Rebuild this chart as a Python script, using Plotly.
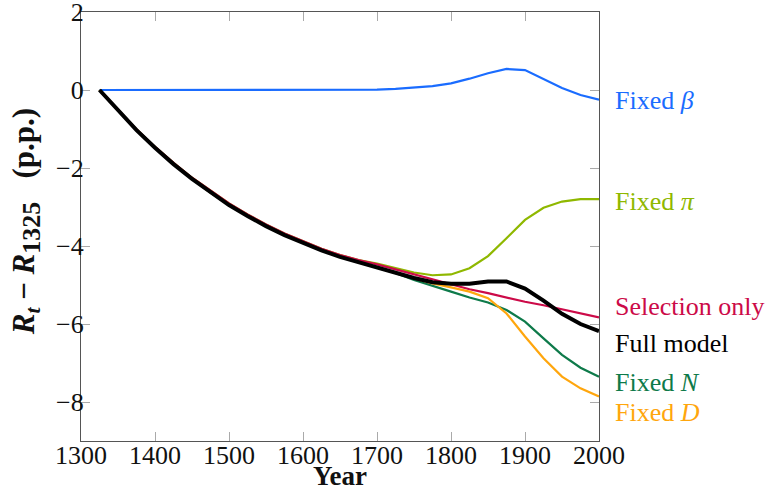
import plotly.graph_objects as go

years = list(range(1325, 2001, 25))

full_model = [0, -0.52, -1.03, -1.48, -1.90, -2.28, -2.63, -2.95, -3.23, -3.49, -3.72, -3.92,
              -4.11, -4.28, -4.42, -4.55, -4.68, -4.82, -4.93, -4.97, -4.97, -4.91, -4.91,
              -5.09, -5.40, -5.74, -6.00, -6.18]
selection_only = [0, -0.51, -1.01, -1.46, -1.87, -2.25, -2.59, -2.91, -3.19, -3.45, -3.68, -3.88,
                  -4.07, -4.23, -4.36, -4.47, -4.60, -4.73, -4.86, -4.99, -5.11, -5.21, -5.32,
                  -5.43, -5.52, -5.62, -5.73, -5.83]
fixed_pi = [0, -0.51, -1.01, -1.46, -1.87, -2.25, -2.59, -2.91, -3.19, -3.45, -3.68, -3.88,
            -4.07, -4.23, -4.36, -4.45, -4.57, -4.68, -4.75, -4.73, -4.57, -4.26, -3.80,
            -3.33, -3.02, -2.86, -2.80, -2.80]
fixed_n = [0, -0.52, -1.03, -1.48, -1.90, -2.28, -2.63, -2.95, -3.23, -3.49, -3.72, -3.92,
           -4.11, -4.28, -4.42, -4.55, -4.69, -4.87, -5.03, -5.17, -5.32, -5.45, -5.64,
           -5.94, -6.37, -6.79, -7.12, -7.35]
fixed_d = [0, -0.52, -1.03, -1.48, -1.90, -2.28, -2.63, -2.95, -3.23, -3.49, -3.72, -3.92,
           -4.11, -4.28, -4.42, -4.55, -4.68, -4.83, -4.96, -5.06, -5.17, -5.34, -5.73,
           -6.32, -6.88, -7.35, -7.65, -7.86]
fixed_beta = [0, 0, 0, 0, 0, 0, 0, 0, 0, 0, 0, 0,
              0, 0.0, 0.005, 0.01, 0.03, 0.06, 0.10, 0.17, 0.29, 0.43, 0.54,
              0.51, 0.27, 0.05, -0.13, -0.25]

x_ticks = [1300, 1400, 1500, 1600, 1700, 1800, 1900, 2000]
y_ticks = [-8, -6, -4, -2, 0, 2]

series = [
    ("Fixed <i>β</i>", fixed_beta, "#1a6cff", 2.2, -0.28),
    ("Fixed <i>π</i>", fixed_pi, "#8fb800", 2.2, -2.85),
    ("Selection only", selection_only, "#cc0a48", 2.2, -5.56),
    ("Fixed <i>N</i>", fixed_n, "#0e7a4a", 2.2, -7.51),
    ("Fixed <i>D</i>", fixed_d, "#ffa60d", 2.2, -8.26),
    ("Full model", full_model, "#000000", 4.0, -6.49),
]

FONT = "Liberation Serif, Times New Roman, serif"
fig = go.Figure()
for name, vals, color, w, _ in series:
    fig.add_trace(go.Scatter(x=years, y=vals, mode="lines", name=name,
                             line=dict(color=color, width=w), showlegend=False))

for name, vals, color, w, ly in series:
    fig.add_annotation(x=1, xref="paper", y=ly, yref="y", text=name,
                       xanchor="left", yanchor="middle", xshift=14, showarrow=False,
                       font=dict(family=FONT, size=26, color=color))

# axis titles
fig.add_annotation(x=0.5, xref="paper", y=-0.082, yref="paper", text="<b>Year</b>",
                   xanchor="center", yanchor="middle", showarrow=False,
                   font=dict(family=FONT, size=27, color="#111111"))
fig.add_annotation(x=-0.106, xref="paper", y=0.51, yref="paper", textangle=-90,
                   text=("<b><i>R</i><sub><i>t</i></sub> − <i>R</i>"
                         "<sub><span style='font-size:26px'>1325</span></sub>"
                         "&nbsp;&nbsp;&nbsp;(p.p.)</b>"),
                   xanchor="center", yanchor="middle", showarrow=False,
                   font=dict(family=FONT, size=31, color="#111111"))

axis_common = dict(showgrid=False, zeroline=False, showline=True, linecolor="#555555",
                   linewidth=1.3, mirror="allticks", ticks="inside", ticklen=9,
                   tickcolor="#aaaaaa", tickwidth=1.2, automargin=False,
                   ticklabeloverflow="allow",
                   tickfont=dict(family=FONT, size=26, color="#111111"))

fig.update_xaxes(range=[1300, 2000], tickvals=x_ticks, ticktext=[str(v) for v in x_ticks],
                 ticklabelstandoff=-9, **axis_common)
fig.update_yaxes(range=[-9, 2], tickvals=y_ticks,
                 ticktext=[("−" + str(-v)) if v < 0 else str(v) for v in y_ticks],
                 ticklabelstandoff=-9, **axis_common)

fig.update_layout(width=776, height=490, paper_bgcolor="white", plot_bgcolor="white",
                  font=dict(family=FONT),
                  margin=dict(l=81, r=177, t=12, b=49, autoexpand=False))

fig.write_html("out.html", config={"displayModeBar": False},
               post_script="document.body.style.margin='0';document.body.style.overflow='hidden';")
